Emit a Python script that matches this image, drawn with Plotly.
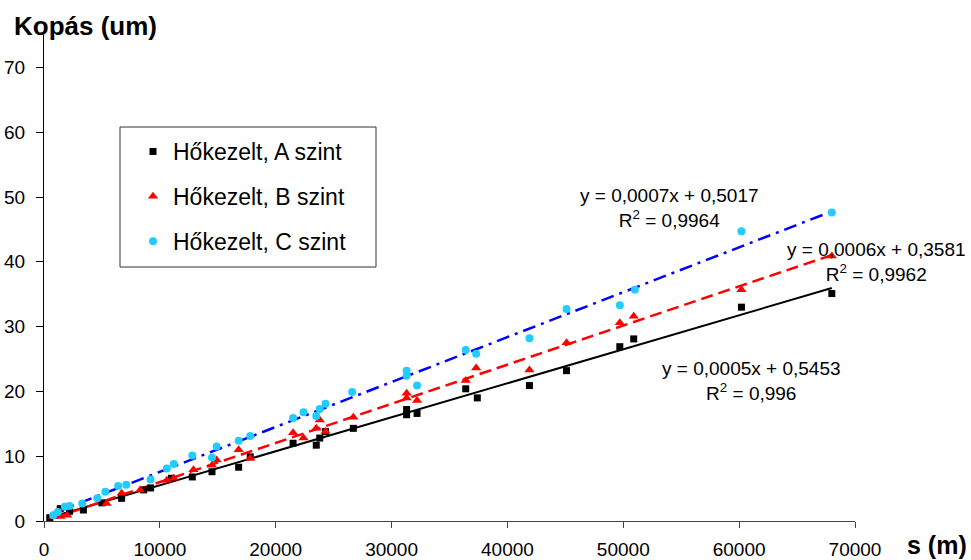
import numpy as np
import plotly.graph_objects as go

# ---- data ----
a_x = [500, 1400, 2200, 3400, 5000, 6700, 8600, 9200, 11000, 12800, 14500, 16800, 17800,
       21500, 23500, 23800, 24300, 26700, 31300, 31300, 32200, 36400, 37400, 41900, 45100,
       49700, 50900, 60200, 68000]
a_y = [0.5, 1.9, 1.5, 1.7, 2.8, 3.5, 4.8, 5.1, 6.6, 6.8, 7.6, 8.3, 9.9,
       12.0, 11.7, 12.8, 13.8, 14.3, 16.4, 17.2, 16.6, 20.4, 19.0, 20.9, 23.2,
       26.9, 28.1, 33.0, 35.1]

b_x = [800, 1400, 2000, 5400, 6700, 8300, 10600, 11200, 12900, 14500, 14900, 16800, 17800,
       21500, 22400, 23500, 23800, 24300, 26700, 31300, 31300, 32200, 36400, 37300, 41900,
       45100, 49700, 50900, 60200, 68000]
b_y = [0.7, 0.7, 0.9, 2.7, 4.3, 4.8, 6.3, 6.6, 7.9, 8.6, 9.4, 11.0, 9.7,
       13.6, 12.8, 14.3, 15.6, 13.8, 16.0, 19.7, 19.0, 18.6, 21.7, 23.6, 23.3,
       27.5, 30.6, 31.6, 35.7, 40.9]

c_x = [800, 1200, 1800, 2200, 3300, 4600, 5300, 6400, 7100, 9200, 10600, 11200, 12800,
       14500, 14900, 16800, 17800, 21500, 22400, 23500, 23800, 24300, 26600, 31300, 31300,
       32200, 36400, 37300, 41900, 45100, 49700, 51000, 60200, 68000]
c_y = [0.9, 1.4, 2.2, 2.3, 2.7, 3.5, 4.5, 5.4, 5.6, 6.4, 8.1, 8.8, 10.1,
       9.8, 11.5, 12.4, 13.1, 15.9, 16.8, 16.2, 17.3, 18.1, 19.9, 23.2, 22.4,
       20.9, 26.4, 25.8, 28.2, 32.7, 33.3, 35.7, 44.7, 47.6]

names = ["Hőkezelt, A szint", "Hőkezelt, B szint", "Hőkezelt, C szint"]
equations = ["y = 0,0005x + 0,5453<br>R<sup>2</sup> = 0,996",
             "y = 0,0006x + 0,3581<br>R<sup>2</sup> = 0,9962",
             "y = 0,0007x + 0,5017<br>R<sup>2</sup> = 0,9964"]
x_ticks = [0, 10000, 20000, 30000, 40000, 50000, 60000, 70000]
y_ticks = [0, 10, 20, 30, 40, 50, 60, 70]

FONT = "Liberation Sans, Arial, sans-serif"

W, H = 971, 560
ML, MR, MT, MB = 44, 116, 35, 39
PW, PH = W - ML - MR, H - MT - MB


def px(xp):
    return (xp - ML) / PW


def py(yp):
    return (H - MB - yp) / PH


fig = go.Figure()

series = [
    (a_x, a_y, "black", "square", 7, dict(color="black", width=2, dash="solid")),
    (b_x, b_y, "#FF0000", "triangle-up", 9, dict(color="#FF0000", width=2.5, dash="12px,6px")),
    (c_x, c_y, "#22CCFF", "circle", 8, dict(color="#0000FF", width=2.5, dash="13px,6px,3px,6px")),
]

# trend lines (least squares fit of each series)
for xs, ys, col, sym, sz, line in series:
    xs_a = np.array(xs, dtype=float)
    ys_a = np.array(ys, dtype=float)
    k, b = np.polyfit(xs_a, ys_a, 1)
    xl = np.array([xs_a.min(), xs_a.max()])
    fig.add_trace(go.Scatter(x=xl, y=k * xl + b, mode="lines", line=line,
                             showlegend=False, hoverinfo="skip"))

for (xs, ys, col, sym, sz, line), name in zip(series, names):
    fig.add_trace(go.Scatter(x=xs, y=ys, mode="markers", name=name, legendgroup=name,
                             marker=dict(symbol=sym, size=sz, color=col,
                                         line=dict(width=0))))

# legend box
fig.add_shape(type="rect", xref="paper", yref="paper",
              x0=px(120), x1=px(376), y0=py(267), y1=py(127),
              line=dict(color="#333333", width=1), fillcolor="white", layer="below")

annotations = [
    dict(text=equations[2], x=px(669), y=py(208), xanchor="center", yanchor="middle"),
    dict(text=equations[1], x=px(876), y=py(262), xanchor="center", yanchor="middle"),
    dict(text=equations[0], x=px(751), y=py(381), xanchor="center", yanchor="middle"),
]
for an in annotations:
    an.update(xref="paper", yref="paper", showarrow=False, align="center",
              font=dict(family=FONT, size=19, color="black"))
    fig.add_annotation(**an)

fig.add_annotation(text="<b>Kopás (um)</b>", xref="paper", yref="paper",
                   x=px(12), y=py(26), xanchor="left", yanchor="middle",
                   showarrow=False, font=dict(family=FONT, size=26, color="black"))
fig.add_annotation(text="<b>s (m)</b>", xref="paper", yref="paper",
                   x=px(905), y=py(545), xanchor="left", yanchor="middle",
                   showarrow=False, font=dict(family=FONT, size=25, color="black"))

fig.update_layout(
    width=W, height=H,
    margin=dict(l=ML, r=MR, t=MT, b=MB, pad=0, autoexpand=False),
    paper_bgcolor="white", plot_bgcolor="white",
    font=dict(family=FONT, size=19, color="black"),
    legend=dict(x=px(133), y=py(130), xanchor="left", yanchor="top",
                bgcolor="rgba(0,0,0,0)", borderwidth=0,
                font=dict(family=FONT, size=23, color="black"),
                tracegroupgap=12, traceorder="grouped"),
    xaxis=dict(range=[0, 70000], tickvals=x_ticks, ticktext=[str(v) for v in x_ticks],
               showgrid=False, zeroline=False, showline=True, linecolor="#444444",
               linewidth=1, ticks="outside", ticklen=6, tickcolor="#444444",
               ticklabelstandoff=5, automargin=False,
               tickfont=dict(family=FONT, size=19)),
    yaxis=dict(range=[0, 75], tickvals=y_ticks, ticktext=[str(v) for v in y_ticks],
               showgrid=False, zeroline=False, showline=True, linecolor="black",
               linewidth=1, ticks="outside", ticklen=7, tickcolor="black",
               ticklabelstandoff=7, automargin=False,
               tickfont=dict(family=FONT, size=19)),
)

fig.write_html("out.html")
